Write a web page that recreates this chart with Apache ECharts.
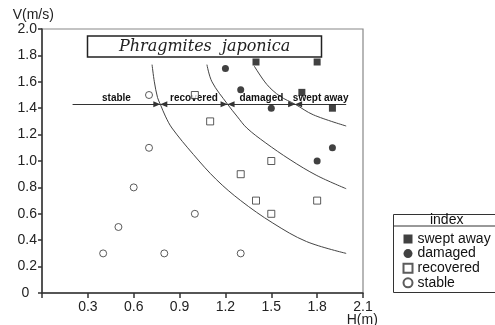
<!DOCTYPE html>
<html><head><meta charset="utf-8">
<script src="https://cdn.jsdelivr.net/npm/echarts@6/dist/echarts.min.js"></script>
<style>html,body{margin:0;padding:0;background:#fff}#c{width:495px;height:325px}</style>
</head><body><div id="c"></div>
<script>
// ---- data (H in m, V in m/s) ----
const sweptAway = [[1.4,1.75],[1.7,1.52],[1.8,1.75],[1.9,1.4]];
const damaged = [[1.2,1.7],[1.3,1.54],[1.5,1.4],[1.8,1.0],[1.9,1.1]];
const recovered = [[1.0,1.5],[1.1,1.3],[1.3,0.9],[1.4,0.7],[1.5,1.0],[1.5,0.6],[1.8,0.7]];
const stable = [[0.4,0.3],[0.5,0.5],[0.6,0.8],[0.7,1.1],[0.7,1.5],[0.8,0.3],[1.0,0.6],[1.3,0.3]];

// boundary curves
const curveLow = [[0.72,1.73],[0.735,1.60],[0.756,1.48],[0.774,1.43],[0.807,1.34],[0.85,1.25],[0.99,1.05],[1.14,0.86],[1.30,0.70],[1.51,0.53],[1.73,0.39],[1.99,0.30]];
const curveMid = [[1.079,1.73],[1.112,1.60],[1.214,1.43],[1.275,1.34],[1.34,1.25],[1.46,1.14],[1.623,1.01],[1.798,0.89],[1.99,0.79]];
const curveTop = [[1.388,1.72],[1.471,1.58],[1.558,1.49],[1.656,1.43],[1.775,1.35],[1.99,1.265]];

// zone arrow line
const zoneLineV = 1.43;
const zoneEdgesH = [0.2, 0.774, 1.214, 1.656, 1.99];
const zoneLabels = ['stable','recovered','damaged','swept away'];

const xTicks = {min:0, max:2.1, interval:0.3};
const yTicks = {min:0, max:2.0, interval:0.2};
const legendNames = ['swept away','damaged','recovered','stable'];

const SANS = '"Liberation Sans", Arial, Helvetica, sans-serif';
const chart = echarts.init(document.getElementById('c'), null, {renderer:'canvas'});

const ARROW = {symbol:'triangle', symbolSize:[6,7], symbolOffset:[0,3.5]};
const NOARROW = {symbol:'none'};
const mlData = zoneLabels.map((name,i)=>[
  Object.assign({coord:[zoneEdgesH[i], zoneLineV], name:name}, i===0 ? NOARROW : ARROW),
  Object.assign({coord:[zoneEdgesH[i+1], zoneLineV]}, i===zoneLabels.length-1 ? NOARROW : ARROW)
]);

const curveStyle = {color:'#444', width:1};
function curve(data, extra){
  return Object.assign({type:'line', data:data, smooth:0.35, showSymbol:false, symbol:'none',
    lineStyle:curveStyle, silent:true, z:1}, extra||{});
}
const openStyle = {color:'#fff', borderColor:'#333', borderWidth:1};
const fillStyle = {color:'#111'};

chart.setOption({
  animation:false,
  backgroundColor:'#fff',
  grid:{left:42, right:132, top:29, bottom:32, show:true, borderColor:'#888', borderWidth:1.2, outerBoundsMode:'none'},
  xAxis:{type:'value', min:xTicks.min, max:xTicks.max, interval:xTicks.interval,
    axisLine:{show:true, onZero:false, lineStyle:{color:'#333', width:1.5}},
    axisTick:{show:true, length:5, lineStyle:{color:'#333', width:1.5}},
    splitLine:{show:false},
    axisLabel:{fontSize:14, fontFamily:SANS, color:'#222', margin:7,
      formatter:v=> Math.abs(v)<1e-9 ? '' : v.toFixed(1)}},
  yAxis:{type:'value', min:yTicks.min, max:yTicks.max, interval:yTicks.interval,
    axisLine:{show:true, onZero:false, lineStyle:{color:'#333', width:1.5}},
    axisTick:{show:true, length:4, lineStyle:{color:'#333', width:1.5}},
    splitLine:{show:false},
    axisLabel:{fontSize:14, fontFamily:SANS, color:'#222', margin:5,
      formatter:v=> Math.abs(v)<1e-9 ? '0  ' : v.toFixed(1)}},
  legend:{data:legendNames, orient:'vertical', left:402.5, top:232, padding:0,
    itemWidth:9, itemHeight:9, itemGap:0.6,
    textStyle:{fontSize:14, fontFamily:SANS, color:'#111', lineHeight:13}},
  series:[
    {name:'swept away', type:'scatter', symbol:'rect', symbolSize:7, data:sweptAway, itemStyle:fillStyle, z:5},
    {name:'damaged', type:'scatter', symbol:'circle', symbolSize:7, data:damaged, itemStyle:fillStyle, z:5},
    {name:'recovered', type:'scatter', symbol:'rect', symbolSize:7, data:recovered, itemStyle:openStyle, z:5},
    {name:'stable', type:'scatter', symbol:'circle', symbolSize:7, data:stable, itemStyle:openStyle, z:5},
    curve(curveLow, {name:'c1', markLine:{silent:true, animation:false,
      lineStyle:{color:'#333', width:1.2, type:'solid'},
      itemStyle:{color:'#222'},
      label:{show:true, position:'insideMiddleTop', formatter:'{b}', fontSize:10, fontWeight:'bold',
        fontFamily:SANS, color:'#111', distance:1},
      emphasis:{disabled:true},
      data:mlData}}),
    curve(curveMid, {name:'c2'}),
    curve(curveTop, {name:'c3'})
  ],
  graphic:[
    {type:'rect', shape:{x:87.5, y:36, width:234, height:21}, style:{fill:'#fff', stroke:'#222', lineWidth:1.5}, z:10},
    {type:'text', x:204.6, y:47, z:11, style:{text:'Phragmites  japonica', font:'italic 16px "DejaVu Serif", serif', fill:'#222', align:'center', verticalAlign:'middle'}},
    {type:'rect', shape:{x:393.5, y:214.5, width:120, height:78}, style:{fill:'none', stroke:'#333', lineWidth:1}, z:10},
    {type:'line', shape:{x1:393.5, y1:226, x2:495, y2:226}, style:{stroke:'#333', lineWidth:1}, z:10},
    {type:'text', x:446.7, y:220, z:11, style:{text:'index', font:'14px '+SANS, fill:'#111', align:'center', verticalAlign:'middle'}},
    {type:'text', x:12.7, y:15, z:11, style:{text:'V(m/s)', font:'14px '+SANS, fill:'#222', align:'left', verticalAlign:'middle'}},
    {type:'text', x:362.3, y:320, z:11, style:{text:'H(m)', font:'14px '+SANS, fill:'#222', align:'center', verticalAlign:'middle'}}
  ]
});
</script></body></html>
